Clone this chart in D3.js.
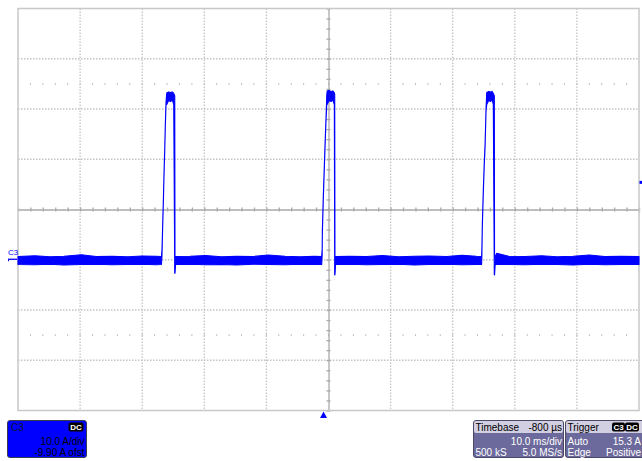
<!DOCTYPE html>
<html><head><meta charset="utf-8">
<script src="https://cdn.jsdelivr.net/npm/d3@7"></script>
<style>
html,body{margin:0;padding:0;background:#fff;}
svg{display:block;font-family:"Liberation Sans",Arial,sans-serif;}
</style>
</head><body>
<svg id="chart" width="642" height="461"></svg>
<script>
// ---------- DATA ----------
const channelName = "C3";
const voltsPerDivA = 10.0;      // A/div
const offsetA = -9.90;          // A ofst
const timePerDivMs = 10.0;      // ms/div
const triggerDelayMs = -0.8;    // -800 µs
const triggerLevelA = 15.3;

// Trace envelope: time (ms from trigger), min and max current (A)
const traceTimeMs = [
  -49.2, -46.5, -44.0, -41.8, -39.0, -36.6, -34.1, -31.5, -29.2, -27.0, -26.1,
  -26.02, -25.96, -25.89, -25.80, -25.68, -25.57, -25.48, -25.36,
  -25.25, -24.95, -24.65, -24.35, -24.12, -23.96, -23.92, -23.82,
  -21.5, -19.0, -16.4, -14.0, -11.3, -8.9, -6.2, -3.8, -1.5, -0.3,
  -0.22, -0.19, -0.03, 0.08, 0.24, 0.40, 0.52,
  0.58, 0.90, 1.20, 1.50, 1.74, 1.80, 1.84, 1.94,
  4.2, 6.9, 9.5, 12.1, 14.6, 17.0, 19.8, 22.3, 24.6, 25.45,
  25.50, 25.57, 25.73, 25.89, 26.01, 26.17,
  26.28, 26.60, 26.90, 27.15, 27.34, 27.50, 27.54, 27.64, 27.9,
  29.8, 32.5, 35.1, 37.6, 40.2, 42.8, 45.3, 47.9, 50.8
];
const traceLowA = [
  -1.05, -1.10, -1.00, -1.15, -1.05, -1.00, -1.10, -1.05, -1.00, -1.10, -1.05,
  0.5, 3.6, 6.9, 10.9, 16.9, 21.5, 26.2, 30.8,
  30.8, 31.6, 31.4, 31.7, 30.8, -2.8, -2.8, -1.05,
  -1.00, -1.10, -1.05, -1.15, -1.00, -1.05, -1.10, -1.00, -1.05, -1.05,
  0.8, 5.0, 12.2, 16.2, 22.2, 27.5, 31.0,
  30.8, 31.6, 31.4, 31.7, 30.8, -3.1, -3.1, -1.05,
  -1.00, -1.10, -1.05, -1.00, -1.15, -1.05, -1.00, -1.10, -1.05, -1.05,
  0.8, 6.3, 13.2, 18.9, 22.2, 29.5,
  30.8, 31.6, 31.4, 31.7, 30.8, -3.1, -3.1, -1.05, -1.0,
  -1.05, -1.10, -1.00, -1.05, -1.15, -1.00, -1.10, -1.05, -1.05
];
const traceHighA = [
  0.55, 0.70, 0.50, 0.60, 0.90, 0.55, 0.60, 0.50, 0.65, 0.60, 0.55,
  1.8, 4.2, 7.5, 11.5, 17.5, 22.1, 26.8, 31.4,
  33.1, 33.3, 33.2, 33.3, 33.0, 32.5, 0.6, 0.55,
  0.60, 0.75, 0.50, 0.60, 0.55, 0.85, 0.60, 0.50, 0.60, 0.55,
  2.0, 5.6, 12.8, 16.8, 22.8, 28.1, 32.6,
  33.5, 33.6, 33.4, 33.5, 33.1, 32.8, 0.6, 0.55,
  0.60, 0.55, 0.75, 0.50, 0.60, 0.65, 0.55, 0.80, 0.60, 0.55,
  2.0, 6.9, 13.8, 19.5, 22.8, 30.1,
  33.2, 33.4, 33.3, 33.4, 33.0, 32.5, 0.6, 0.55, 1.2,
  0.60, 0.55, 0.70, 0.50, 0.60, 0.85, 0.55, 0.60, 0.55
];

// Info panel texts
const channelInfo = ["C3", "DC", "10.0 A/div", "-9.90 A ofst"];
const timebaseInfo = ["Timebase", "-800 µs", "10.0 ms/div", "500 kS", "5.0 MS/s"];
const triggerInfo = ["Trigger", "C3", "DC", "Auto", "15.3 A", "Edge", "Positive"];

// ---------- LAYOUT ----------
const gridLeft = 18, gridRight = 639, gridTop = 8.5, gridBottom = 410.5;
const hDivs = 10, vDivs = 8, minorPerDiv = 5;
const traceColor = "#0000ff";

const svg = d3.select("#chart");

const centerTime = -triggerDelayMs;
const x = d3.scaleLinear()
  .domain([centerTime - timePerDivMs * hDivs / 2, centerTime + timePerDivMs * hDivs / 2])
  .range([gridLeft, gridRight]);
const centerA = -offsetA;
const y = d3.scaleLinear()
  .domain([centerA - voltsPerDivA * vDivs / 2, centerA + voltsPerDivA * vDivs / 2])
  .range([gridBottom, gridTop]);

const xDivVals = d3.range(1, hDivs).map(i => x.domain()[0] + i * timePerDivMs);
const yDivVals = d3.range(1, vDivs).map(i => y.domain()[0] + i * voltsPerDivA);
const xMinorVals = d3.range(0, hDivs * minorPerDiv + 1).map(i => x.domain()[0] + i * timePerDivMs / minorPerDiv);
const yMinorVals = d3.range(0, vDivs * minorPerDiv + 1).map(i => y.domain()[0] + i * voltsPerDivA / minorPerDiv);

const grid = svg.append("g");
// dotted division lines
grid.selectAll("line.vg").data(xDivVals.filter((d, i) => i !== 4)).join("line")
  .attr("x1", d => x(d)).attr("x2", d => x(d))
  .attr("y1", gridTop).attr("y2", gridBottom)
  .attr("stroke", "#c4c4c4").attr("stroke-width", 1.3).attr("stroke-dasharray", "1.5,1.5");
grid.selectAll("line.hg").data(yDivVals.filter((d, i) => i !== 3)).join("line")
  .attr("x1", gridLeft).attr("x2", gridRight)
  .attr("y1", d => y(d)).attr("y2", d => y(d))
  .attr("stroke", "#c4c4c4").attr("stroke-width", 1.3).attr("stroke-dasharray", "1.5,1.5");

// dot rows at +/- 2.5 divisions
const dotRows = [centerA + 2.5 * voltsPerDivA, centerA - 2.5 * voltsPerDivA];
dotRows.forEach(v => {
  grid.selectAll(null).data(xMinorVals.slice(1, -1)).join("rect")
    .attr("x", d => x(d) - 0.5).attr("y", y(v) - 1)
    .attr("width", 1).attr("height", 2).attr("fill", "#bdbdbd");
});

// center axes with minor ticks
const xAxis = d3.axisBottom(x).tickValues(xMinorVals).tickSize(4).tickSizeOuter(0).tickFormat("");
const gx = grid.append("g").attr("transform", `translate(0,${y(centerA) - 2})`).call(xAxis);
gx.select(".domain").attr("transform", "translate(0,2)");
const yAxis = d3.axisRight(y).tickValues(yMinorVals).tickSize(4).tickSizeOuter(0).tickFormat("");
const gy = grid.append("g").attr("transform", `translate(${x(centerTime) - 2},0)`).call(yAxis);
gy.select(".domain").attr("transform", "translate(2,0)");
[gx, gy].forEach(g => {
  g.selectAll("path,line").attr("stroke", "#a9a9a9").attr("stroke-width", 1.3);
});

// border
svg.append("rect").attr("x", gridLeft).attr("y", gridTop)
  .attr("width", gridRight - gridLeft).attr("height", gridBottom - gridTop)
  .attr("fill", "none").attr("stroke", "#c8c8c8").attr("stroke-width", 1.5);

// ---------- TRACE ----------
const traceData = traceTimeMs.map((t, i) => ({ t, lo: traceLowA[i], hi: traceHighA[i] }));
const area = d3.area().x(d => x(d.t)).y0(d => y(d.lo)).y1(d => y(d.hi));
svg.append("path").datum(traceData).attr("d", area)
  .attr("fill", traceColor).attr("stroke", traceColor).attr("stroke-width", 1.1)
  .attr("stroke-linejoin", "round");

// channel ground marker
svg.append("text").attr("x", 8).attr("y", y(0) - 4).attr("font-size", 8)
  .attr("fill", traceColor).text(channelName);
svg.append("line").attr("x1", 8).attr("x2", 17).attr("y1", y(0)).attr("y2", y(0))
  .attr("stroke", traceColor).attr("stroke-width", 1.3);
svg.append("line").attr("x1", 8.5).attr("x2", 8.5).attr("y1", y(0)).attr("y2", y(0) + 2)
  .attr("stroke", traceColor).attr("stroke-width", 1);

// trigger level marker (right edge)
svg.append("rect").attr("x", gridRight + 0.5).attr("y", y(triggerLevelA) - 1.5)
  .attr("width", 2.5).attr("height", 3).attr("fill", traceColor);

// trigger time marker (bottom)
const tx = x(0);
svg.append("path")
  .attr("d", `M${tx - 3.5},418 L${tx + 3.5},418 L${tx},411.5 Z`)
  .attr("fill", traceColor);

// ---------- INFO PANELS ----------
function badge(g, bx, by, w, label) {
  g.append("rect").attr("x", bx).attr("y", by).attr("width", w).attr("height", 9)
    .attr("rx", 2).attr("fill", "#000");
  g.append("text").attr("x", bx + w / 2).attr("y", by + 7.5).attr("text-anchor", "middle")
    .attr("font-size", 8).attr("font-weight", "bold").attr("fill", "#fff").text(label);
}

// channel box
const cb = svg.append("g");
cb.append("rect").attr("x", 7.5).attr("y", 420.5).attr("width", 79).attr("height", 37)
  .attr("rx", 2.5).attr("fill", "#0000ff").attr("stroke", "#3a3a50").attr("stroke-width", 1);
cb.append("text").attr("x", 11).attr("y", 431).attr("font-size", 10).attr("fill", "#101030").text(channelInfo[0]);
badge(cb, 68.5, 422.5, 15, channelInfo[1]);
cb.append("text").attr("x", 84.5).attr("y", 445.3).attr("text-anchor", "end").attr("font-size", 10).attr("fill", "#000").text(channelInfo[2]);
cb.append("text").attr("x", 84.5).attr("y", 455.6).attr("text-anchor", "end").attr("font-size", 10).attr("fill", "#000").text(channelInfo[3]);

// timebase box
const panelBody = "#6c6a9c", panelHead = "#d2cfe2";
const tb = svg.append("g");
tb.append("rect").attr("x", 473.5).attr("y", 420.5).attr("width", 90).attr("height", 37)
  .attr("rx", 2.5).attr("fill", panelBody).attr("stroke", "#4a4a66");
tb.append("rect").attr("x", 474).attr("y", 421).attr("width", 89).attr("height", 12)
  .attr("rx", 2).attr("fill", panelHead);
tb.append("text").attr("x", 475.5).attr("y", 430.5).attr("font-size", 10).attr("fill", "#000").text(timebaseInfo[0]);
tb.append("text").attr("x", 562).attr("y", 430.5).attr("text-anchor", "end").attr("font-size", 10).attr("fill", "#000").text(timebaseInfo[1]);
tb.append("text").attr("x", 562).attr("y", 445.3).attr("text-anchor", "end").attr("font-size", 10).attr("fill", "#fff").text(timebaseInfo[2]);
tb.append("text").attr("x", 475.5).attr("y", 455.6).attr("font-size", 10).attr("fill", "#fff").text(timebaseInfo[3]);
tb.append("text").attr("x", 562).attr("y", 455.6).attr("text-anchor", "end").attr("font-size", 10).attr("fill", "#fff").text(timebaseInfo[4]);

// trigger box
const trb = svg.append("g");
trb.append("rect").attr("x", 565.5).attr("y", 420.5).attr("width", 82).attr("height", 37)
  .attr("rx", 2.5).attr("fill", panelBody).attr("stroke", "#4a4a66");
trb.append("rect").attr("x", 566).attr("y", 421).attr("width", 80).attr("height", 12)
  .attr("rx", 2).attr("fill", panelHead);
trb.append("text").attr("x", 567.5).attr("y", 430.5).attr("font-size", 10).attr("fill", "#000").text(triggerInfo[0]);
badge(trb, 612, 422.5, 13, triggerInfo[1]);
badge(trb, 625, 422.5, 14, triggerInfo[2]);
trb.append("text").attr("x", 567.5).attr("y", 445.3).attr("font-size", 10).attr("fill", "#fff").text(triggerInfo[3]);
trb.append("text").attr("x", 641).attr("y", 445.3).attr("text-anchor", "end").attr("font-size", 10).attr("fill", "#fff").text(triggerInfo[4]);
trb.append("text").attr("x", 567.5).attr("y", 455.6).attr("font-size", 10).attr("fill", "#fff").text(triggerInfo[5]);
trb.append("text").attr("x", 641).attr("y", 455.6).attr("text-anchor", "end").attr("font-size", 10).attr("fill", "#fff").text(triggerInfo[6]);
</script>
</body></html>
